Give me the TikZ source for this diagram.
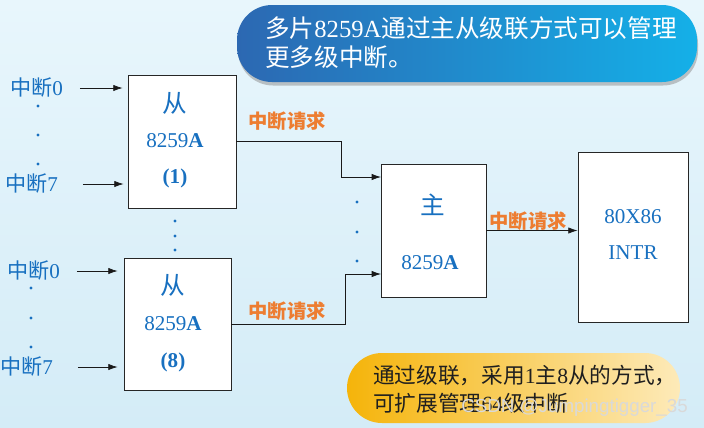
\documentclass[tikz,border=0pt]{standalone}
\usepackage{fontspec}
\setmainfont{Liberation Serif}
\newfontfamily\cjk{Noto Sans CJK SC}
\newfontfamily\wmfont{Liberation Sans}
\usetikzlibrary{arrows.meta,positioning}
\definecolor{chipblue}{RGB}{24,112,192}
\definecolor{reqorange}{RGB}{237,125,49}
\definecolor{bgtop}{RGB}{232,246,252}
\definecolor{bgbot}{RGB}{212,236,247}
\definecolor{bubdeep}{RGB}{44,104,178}
\definecolor{bubsky}{RGB}{20,176,232}
\definecolor{bubgold}{RGB}{245,180,10}
\definecolor{bubpale}{RGB}{253,234,185}
\newcommand\rmnum[1]{{\rmfamily #1}}

\begin{document}
\begin{tikzpicture}[
  x=0.3mm,y=-0.3mm,
  chip/.style={rectangle,draw=black!85,line width=0.7pt,fill=white,inner sep=0pt},
  chiptxt/.style={text=chipblue,font=\rmfamily\fontsize{18}{20}\selectfont,inner sep=0pt},
  chipcn/.style={text=chipblue,font=\cjk\fontsize{21}{22}\selectfont,inner sep=0pt},
  irqlab/.style={text=chipblue,font=\cjk\fontsize{18}{20}\selectfont,inner sep=0pt,anchor=west},
  req/.style={text=reqorange,font=\cjk\bfseries\fontsize{16.5}{18}\selectfont,inner sep=0pt},
  arc/.style={-{Latex[length=2.8mm,width=1.9mm]},line width=0.6pt,black!90},
  bubble/.style={rectangle,rounded corners=10.5mm,inner sep=0pt,draw=none},
  notetxt/.style={anchor=west,align=left,inner sep=0pt},
]
\useasboundingbox (0,0) rectangle (704,427);
\shade[top color=bgtop,bottom color=bgbot] (0,0) rectangle (704,427);
\node[bubble,minimum width=138mm,minimum height=23.1mm,fill=black!45,opacity=0.5] (topshade) at (468,47) {};
\node[bubble,minimum width=138mm,minimum height=23.1mm,left color=bubdeep,right color=bubsky] (topnote) at (467,43.5) {};
\node[notetxt,text=white,font=\cjk\fontsize{21}{24.7}\selectfont] (toptxt) at (265,42.5) {多片\rmnum{8259A}通过主从级联方式可以管理\\更多级中断。};
\node[chip,minimum width=32.4mm,minimum height=39.9mm] (s1) at (182,141.5) {};
\node[chipcn] (s1a) at (175,103) {从};
\node[chiptxt] (s1b) at (175,141) {8259\textbf{A}};
\node[chiptxt] (s1c) at (175,178) {\textbf{(1)}};
\node[chip,minimum width=32.1mm,minimum height=39.6mm] (s8) at (177.5,324) {};
\node[chipcn] (s8a) at (173,285) {从};
\node[chiptxt] (s8b) at (173,324) {8259\textbf{A}};
\node[chiptxt] (s8c) at (173,362) {\textbf{(8)}};
\node[chip,minimum width=31.5mm,minimum height=39.9mm] (m) at (433.5,230.5) {};
\node[chipcn] (ma) at (433,205) {主};
\node[chiptxt] (mb) at (430,263) {8259\textbf{A}};
\node[chip,minimum width=33mm,minimum height=51mm] (cpu) at (633,237) {};
\node[chiptxt] (cpua) at (633,217) {80X86};
\node[chiptxt] (cpub) at (633,253) {INTR};
\node[irqlab] (a0) at (10,88) {中断\rmnum{0}};
\node[irqlab] (a7) at (5,184) {中断\rmnum{7}};
\node[irqlab] (b0) at (7,271) {中断\rmnum{0}};
\node[irqlab] (b7) at (0,367) {中断\rmnum{7}};
\draw[arc,shorten <=5mm,shorten >=1.5mm] (a0) -- (a0 -| s1.west);
\draw[arc,shorten <=7.4mm,shorten >=1.2mm] (a7) -- (a7 -| s1.west);
\draw[arc,shorten <=5mm,shorten >=1.8mm] (b0) -- (b0 -| s8.west);
\draw[arc,shorten <=7.4mm,shorten >=1.8mm] (b7) -- (b7 -| s8.west);
\fill[chipblue] (38,106) circle (0.5mm);
\fill[chipblue] (38,135) circle (0.5mm);
\fill[chipblue] (38,164) circle (0.5mm);
\fill[chipblue] (31,288) circle (0.5mm);
\fill[chipblue] (31,318) circle (0.5mm);
\fill[chipblue] (31,347) circle (0.5mm);
\fill[chipblue] (175,221) circle (0.5mm);
\fill[chipblue] (175,236) circle (0.5mm);
\fill[chipblue] (175,250) circle (0.5mm);
\fill[chipblue] (357,202) circle (0.5mm);
\fill[chipblue] (357,232) circle (0.5mm);
\fill[chipblue] (357,261) circle (0.5mm);
\coordinate (m1) at (381,177);
\coordinate (m8) at (381,274);
\draw[arc] (s1.east) -- ++(105,0) |- (m1);
\draw[arc] (s8.east) -- ++(114,0) |- (m8);
\draw[arc] (m.east) -- (m.east -| cpu.west);
\node[req] (r1) at (287,121) {中断请求};
\node[req] (r8) at (287,311) {中断请求};
\node[req] (rm) at (528,221) {中断请求};
\node[bubble,minimum width=99.9mm,minimum height=21mm,left color=bubgold,right color=bubpale] (botnote) at (513.5,388) {};
\node[notetxt,text=black!88,font=\cjk\fontsize{18.5}{23.8}\selectfont] (bottxt) at (373,389) {通过级联，采用\rmnum{1}主\rmnum{8}从的方式，\\可扩展管理\rmnum{64}级中断};
\node[anchor=east,inner sep=0pt,text=white!85!black,font=\wmfont\fontsize{16}{18}\selectfont] (wm) at (688,408) {CSDN @Jumpingtigger\_35};
\end{tikzpicture}
\end{document}
